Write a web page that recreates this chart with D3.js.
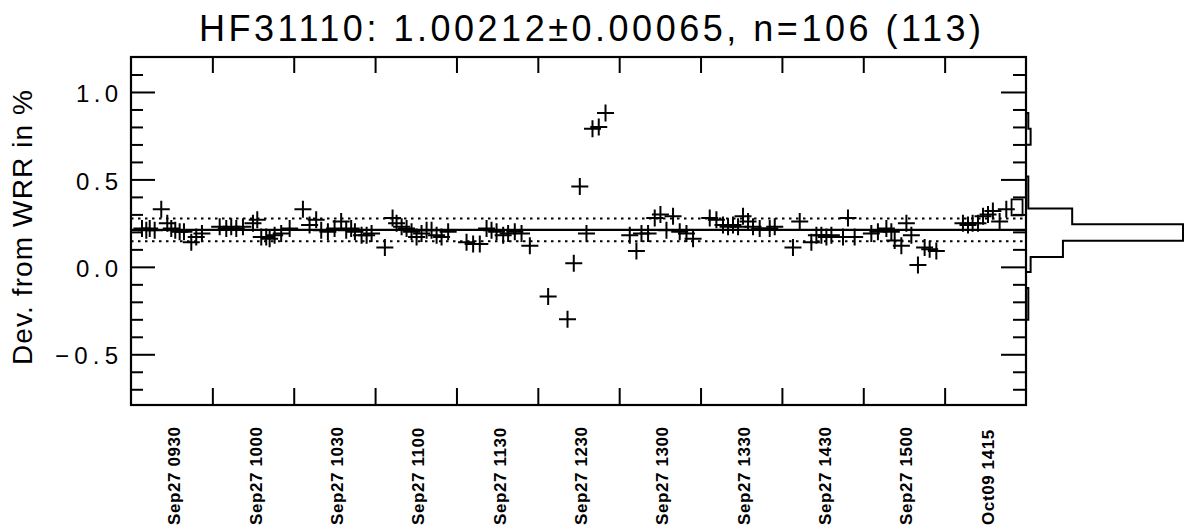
<!DOCTYPE html>
<html><head><meta charset="utf-8">
<script src="https://cdn.jsdelivr.net/npm/d3@7"></script>
<style>html,body{margin:0;padding:0;background:#fff;}svg{display:block;}</style>
</head><body>
<script>
// ---------- data ----------
const titleText = "HF31110: 1.00212\u00b10.00065, n=106 (113)";
const yLabelText = "Dev. from WRR in %";
const sessionLabels = ["Sep27 0930","Sep27 1000","Sep27 1030","Sep27 1100","Sep27 1130","Sep27 1230","Sep27 1300","Sep27 1330","Sep27 1430","Sep27 1500","Oct09 1415"];
const yMajorTicks = [-0.5, 0.0, 0.5, 1.0];
const yMinorTicks = [-0.7,-0.6,-0.4,-0.3,-0.2,-0.1,0.1,0.2,0.3,0.4,0.6,0.7,0.8,0.9,1.1];
const meanValue = 0.212;
const sigmaValue = 0.065;
// x position in session units (session i spans i..i+1), y = deviation in %
const pointX = [
 0.135,0.188,0.230,0.291,0.372,0.446,0.495,0.544,0.598,0.651,0.741,0.802,0.872,
 1.090,1.171,1.232,1.294,1.376,1.499,1.552,1.601,1.662,1.704,1.765,1.846,1.950,
 2.113,2.195,2.276,2.338,2.420,2.502,2.583,2.645,2.706,2.752,2.834,2.896,2.957,
 3.120,3.215,3.264,3.326,3.387,3.448,3.510,3.571,3.633,3.694,3.756,3.817,3.898,
 4.124,4.205,4.287,4.370,4.431,4.493,4.574,4.635,4.717,4.800,4.902,
 5.127,5.365,5.442,5.516,5.598,5.672,5.749,5.832,
 6.130,6.212,6.274,6.355,6.437,6.507,6.581,6.662,6.744,6.827,6.908,
 7.113,7.195,7.276,7.338,7.399,7.461,7.522,7.584,7.645,7.727,7.850,7.912,
 8.136,8.219,8.362,8.424,8.485,8.547,8.608,8.751,8.812,8.894,
 9.099,9.180,9.284,9.345,9.386,9.468,9.530,9.591,9.672,9.754,9.816,9.898,
 10.225,10.287,10.344,10.410,10.472,10.533,10.593,10.676,10.758
];
const pointY = [
 0.22,0.21,0.22,0.21,0.33,0.25,0.22,0.21,0.20,0.20,0.14,0.17,0.19,
 0.23,0.22,0.23,0.22,0.23,0.25,0.27,0.17,0.17,0.16,0.18,0.19,0.22,
 0.33,0.24,0.27,0.21,0.20,0.22,0.26,0.21,0.22,0.20,0.18,0.18,0.19,
 0.11,0.28,0.25,0.23,0.22,0.20,0.17,0.19,0.21,0.21,0.18,0.17,0.20,
 0.14,0.13,0.13,0.22,0.21,0.20,0.18,0.19,0.20,0.19,0.12,
 -0.17,-0.30,0.02,0.46,0.19,0.79,0.80,0.88,
 0.18,0.09,0.19,0.19,0.28,0.30,0.21,0.29,0.20,0.19,0.16,
 0.28,0.27,0.24,0.23,0.24,0.23,0.29,0.26,0.23,0.22,0.22,0.23,
 0.11,0.26,0.14,0.18,0.18,0.17,0.18,0.17,0.28,0.17,
 0.19,0.20,0.22,0.20,0.15,0.12,0.25,0.18,0.01,0.11,0.10,0.09,
 0.25,0.24,0.25,0.25,0.29,0.30,0.32,0.26,0.33
];
const squareX = [10.89];
const squareY = [0.34];
const histEdges = [-0.303,-0.212,-0.121,-0.030,0.057,0.149,0.243,0.334,0.425,0.516,0.607,0.698,0.789,0.880];
const histCounts = [1,1,0,2,16,68,20,1,1,0,0,2,1];

// ---------- layout ----------
const W = 1194, H = 532;
const L = 131, R = 1026, T = 57, B = 405;
const svg = d3.select("body").append("svg").attr("width", W).attr("height", H)
  .style("font-family", "'Liberation Sans', Arial, Helvetica, sans-serif");
svg.append("rect").attr("width", W).attr("height", H).attr("fill", "#fff");

const x = d3.scaleLinear().domain([0, sessionLabels.length]).range([L, R]);
const y = d3.scaleLinear().domain([-0.79, 1.2]).range([B, T]);
const hx = d3.scaleLinear().domain([0, 68]).range([R, 1183]);

// title
svg.append("text").attr("x", 199).attr("y", 41).attr("font-size", 36)
  .attr("textLength", 782).attr("lengthAdjust", "spacing").attr("fill", "#000")
  .text(titleText);

// y label
svg.append("text").attr("transform", "translate(31.5,365) rotate(-90)")
  .attr("font-size", 28).attr("textLength", 275).attr("lengthAdjust", "spacing")
  .attr("fill", "#000").text(yLabelText);

// horizontal reference lines
const ref = svg.append("g");
ref.append("line").attr("x1", L).attr("x2", R).attr("y1", y(meanValue)).attr("y2", y(meanValue))
  .attr("stroke", "#000").attr("stroke-width", 2.2);
[meanValue + sigmaValue, meanValue - sigmaValue].forEach(v => {
  ref.append("line").attr("x1", L).attr("x2", R).attr("y1", y(v)).attr("y2", y(v))
    .attr("stroke", "#000").attr("stroke-width", 2).attr("stroke-dasharray", "2.5,4.5");
});

// axes
function styleAxis(g) {
  g.select(".domain").remove();
  g.selectAll(".tick line").attr("stroke", "#000").attr("stroke-width", 2);
}
svg.append("g").attr("transform", `translate(${L},0)`)
  .call(d3.axisLeft(y).tickValues(yMajorTicks).tickSizeInner(-24).tickSizeOuter(0).tickPadding(13)
    .tickFormat(d3.format(".1f")))
  .call(styleAxis)
  .call(g => g.selectAll(".tick text").attr("font-size", 24).attr("fill", "#000")
    .attr("font-family", "'Liberation Sans', Arial, sans-serif")
    .attr("dy", "0.40em")
    .attr("textLength", d => d < 0 ? 63 : 42).attr("lengthAdjust", "spacing"));
svg.append("g").attr("transform", `translate(${L},0)`)
  .call(d3.axisLeft(y).tickValues(yMinorTicks).tickSizeInner(-12).tickSizeOuter(0).tickFormat(""))
  .call(styleAxis);
svg.append("g").attr("transform", `translate(${R},0)`)
  .call(d3.axisRight(y).tickValues(yMajorTicks).tickSizeInner(-25).tickSizeOuter(0).tickFormat(""))
  .call(styleAxis);
svg.append("g").attr("transform", `translate(${R},0)`)
  .call(d3.axisRight(y).tickValues(yMinorTicks).tickSizeInner(-13).tickSizeOuter(0).tickFormat(""))
  .call(styleAxis);
const sessionBounds = d3.range(1, sessionLabels.length);
svg.append("g").attr("transform", `translate(0,${B})`)
  .call(d3.axisBottom(x).tickValues(sessionBounds).tickSizeInner(-17).tickSizeOuter(0).tickFormat(""))
  .call(styleAxis);
svg.append("g").attr("transform", `translate(0,${T})`)
  .call(d3.axisTop(x).tickValues(sessionBounds).tickSizeInner(-16).tickSizeOuter(0).tickFormat(""))
  .call(styleAxis);

// x labels (rotated)
svg.append("g").selectAll("text").data(sessionLabels).join("text")
  .attr("transform", (d, i) => `translate(${x(i + 0.5) + 8.5},525) rotate(-90)`)
  .attr("font-size", 17).attr("font-weight", "bold").attr("fill", "#000")
  .attr("letter-spacing", 0.6)
  .text(d => d);

// frame
svg.append("rect").attr("x", L).attr("y", T).attr("width", R - L).attr("height", B - T)
  .attr("fill", "none").attr("stroke", "#000").attr("stroke-width", 2.2);

// data points as plus signs
const pts = d3.zip(pointX, pointY);
svg.append("g").selectAll("path").data(pts).join("path")
  .attr("d", d => {
    const px = x(d[0]), py = y(d[1]);
    return `M${px - 8.5},${py}h17M${px},${py - 8.5}v17`;
  })
  .attr("stroke", "#000").attr("stroke-width", 2).attr("fill", "none");
svg.append("g").selectAll("rect").data(d3.zip(squareX, squareY)).join("rect")
  .attr("x", d => x(d[0]) - 5.5).attr("y", d => y(d[1]) - 8)
  .attr("width", 11).attr("height", 16)
  .attr("fill", "none").attr("stroke", "#000").attr("stroke-width", 1.8);

// histogram (step outline to the right of the plot)
let hp = `M${hx(0)},${y(histEdges[0])}`;
histCounts.forEach((c, i) => {
  hp += `L${hx(c)},${y(histEdges[i])}L${hx(c)},${y(histEdges[i + 1])}`;
});
hp += `L${hx(0)},${y(histEdges[histEdges.length - 1])}`;
svg.append("path").attr("d", hp).attr("fill", "none").attr("stroke", "#000").attr("stroke-width", 2);
</script>
</body></html>
